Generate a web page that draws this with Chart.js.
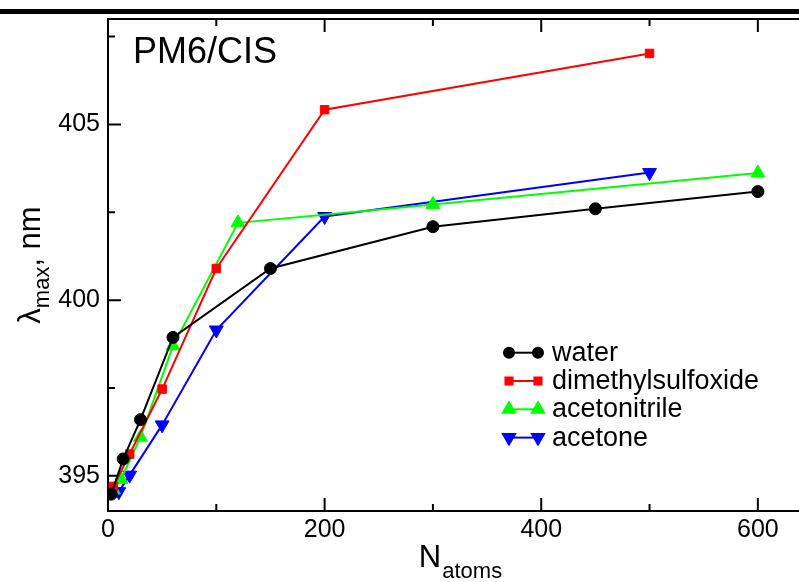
<!DOCTYPE html>
<html>
<head>
<meta charset="utf-8">
<script src="https://cdn.jsdelivr.net/npm/chart.js@4.4.1/dist/chart.umd.min.js"></script>
<style>
  html, body { margin: 0; padding: 0; background: #fff; overflow: hidden; }
  #wrap { position: relative; width: 799px; height: 582px; overflow: hidden; }
  #chart { position: absolute; left: 0; top: 0; }
  #topRule { position: absolute; left: 0; top: 9px; width: 799px; height: 5px; background: #000; }
</style>
</head>
<body>
<div id="wrap">
  <canvas id="chart" width="830" height="582"></canvas>
  <div id="topRule"></div>
</div>
<script>
// ---------- Data ----------
const waterN = [3, 14, 30, 60, 150, 300, 450, 600];
const waterL = [394.48, 395.48, 396.6, 398.94, 400.9, 402.09, 402.6, 403.09];

const dmsoN = [5, 20, 50, 100, 200, 500];
const dmsoL = [394.7, 395.62, 397.47, 400.9, 405.42, 407.02];

const acnN = [5, 12, 30, 60, 120, 300, 600];
const acnL = [394.6, 394.9, 396.1, 398.7, 402.2, 402.72, 403.62];

const acetoneN = [10, 20, 50, 100, 200, 500];
const acetoneL = [394.55, 395.02, 396.45, 399.15, 402.38, 403.63];

const seriesNames = ['water', 'dimethylsulfoxide', 'acetonitrile', 'acetone'];

// axis ticks
const xMajor = [0, 200, 400, 600];
const xMinor = [100, 300, 500];
const yMajor = [395, 400, 405];
const yMinor = [397.5, 402.5, 407.5];

const FONT = '"Liberation Sans", Arial, Helvetica, sans-serif';

function pts(xs, ys) {
  return xs.map((x, i) => ({ x, y: ys[i] }));
}

function series(label, xs, ys, color, style, radius, rotation) {
  return {
    label,
    data: pts(xs, ys),
    showLine: true,
    borderColor: color,
    backgroundColor: color,
    borderWidth: 2,
    tension: 0,
    pointStyle: style,
    pointRadius: radius,
    pointRotation: rotation || 0,
    pointBorderWidth: 1,
    pointBorderColor: color,
    pointBackgroundColor: color
  };
}

// ---------- Plugins ----------
// axis lines with inward ticks on all four sides
const framePlugin = {
  id: 'frame',
  beforeDatasetsDraw(chart) {
    const { ctx, chartArea: a, scales: { x, y } } = chart;
    ctx.save();
    ctx.strokeStyle = '#000';
    ctx.lineWidth = 2;
    ctx.beginPath();
    ctx.moveTo(a.left, a.top - 1); ctx.lineTo(a.left, a.bottom);
    ctx.lineTo(a.right, a.bottom);
    ctx.moveTo(a.left, a.top); ctx.lineTo(a.right, a.top);
    ctx.stroke();
    const tick = (vals, len) => {
      vals.forEach(v => {
        const px = x.getPixelForValue(v);
        ctx.beginPath();
        ctx.moveTo(px, a.bottom); ctx.lineTo(px, a.bottom - len);
        ctx.moveTo(px, a.top); ctx.lineTo(px, a.top + len);
        ctx.stroke();
      });
    };
    const ytick = (vals, len) => {
      vals.forEach(v => {
        const py = y.getPixelForValue(v);
        ctx.beginPath();
        ctx.moveTo(a.left, py); ctx.lineTo(a.left + len, py);
        ctx.moveTo(a.right, py); ctx.lineTo(a.right - len, py);
        ctx.stroke();
      });
    };
    tick(xMajor, 13); tick(xMinor, 7);
    ytick(yMajor, 13); ytick(yMinor, 7);
    ctx.restore();
  }
};

// legend inside the plot: short line with a marker at each end
const legendPlugin = {
  id: 'inlineLegend',
  afterDatasetsDraw(chart) {
    const ctx = chart.ctx;
    const x0 = 509, x1 = 538, textX = 552;
    ctx.save();
    chart.data.datasets.forEach((ds, i) => {
      const yy = 352.7 + i * 28.3;
      ctx.strokeStyle = ds.borderColor;
      ctx.fillStyle = ds.backgroundColor;
      ctx.lineWidth = 2;
      ctx.beginPath();
      ctx.moveTo(x0, yy); ctx.lineTo(x1, yy);
      ctx.stroke();
      const opts = { pointStyle: ds.pointStyle, radius: ds.pointRadius - 1, rotation: ds.pointRotation, borderWidth: 1 };
      Chart.helpers.drawPoint(ctx, opts, x0, yy);
      Chart.helpers.drawPoint(ctx, opts, x1, yy);
      ctx.fillStyle = '#000';
      ctx.font = '27px ' + FONT;
      ctx.textBaseline = 'alphabetic';
      ctx.textAlign = 'left';
      ctx.fillText(ds.label, textX, yy + 8);
    });
    ctx.restore();
  }
};

// panel label and axis titles with subscripts
const textPlugin = {
  id: 'titles',
  afterDraw(chart) {
    const { ctx, chartArea: a } = chart;
    ctx.save();
    ctx.fillStyle = '#000';
    ctx.textBaseline = 'alphabetic';
    ctx.textAlign = 'left';

    ctx.font = '36px ' + FONT;
    ctx.fillText('PM6/CIS', a.left + 25, a.top + 44);

    // x title: N_atoms
    const big = '31px ' + FONT, small = '22px ' + FONT;
    ctx.font = big;
    const wN = ctx.measureText('N').width;
    ctx.font = small;
    const wSub = ctx.measureText('atoms').width;
    const cx = (a.left + a.right) / 2;
    let sx = cx - (wN + wSub) / 2;
    ctx.font = big;
    ctx.fillText('N', sx, 567);
    ctx.font = small;
    ctx.fillText('atoms', sx + wN + 1, 578);

    // y title: λ_max, nm (rotated)
    ctx.translate(40, (a.top + a.bottom) / 2);
    ctx.rotate(-Math.PI / 2);
    ctx.font = big;
    const wL = ctx.measureText('λ').width;
    const wRest = ctx.measureText(', nm').width;
    ctx.font = small;
    const wMax = ctx.measureText('max').width;
    let ty = -(wL + wMax + wRest) / 2;
    ctx.font = big;
    ctx.fillText('λ', ty, 0);
    ctx.font = small;
    ctx.fillText('max', ty + wL, 9);
    ctx.font = big;
    ctx.fillText(', nm', ty + wL + wMax, 0);
    ctx.restore();
  }
};

// ---------- Chart ----------
new Chart(document.getElementById('chart'), {
  type: 'scatter',
  data: {
    datasets: [
      series(seriesNames[0], waterN, waterL, '#000000', 'circle', 6),
      series(seriesNames[1], dmsoN, dmsoL, '#ff0000', 'rect', 6),
      series(seriesNames[2], acnN, acnL, '#00ff00', 'triangle', 8),
      series(seriesNames[3], acetoneN, acetoneL, '#0000ff', 'triangle', 8, 180)
    ]
  },
  options: {
    responsive: false,
    animation: false,
    layout: { padding: { top: 19, right: 18, left: 0, bottom: 0 } },
    plugins: { legend: { display: false }, tooltip: { enabled: false } },
    scales: {
      x: {
        type: 'linear',
        min: 0,
        max: 650,
        grid: { display: false, drawTicks: false },
        border: { display: false },
        afterBuildTicks(s) { s.ticks = xMajor.map(v => ({ value: v })); },
        afterFit(s) { s.height = 71; s.paddingLeft = 0; s.paddingRight = 0; },
        ticks: { color: '#000', padding: 4, font: { family: FONT, size: 25 } }
      },
      y: {
        type: 'linear',
        min: 394,
        max: 408,
        grid: { display: false, drawTicks: false },
        border: { display: false },
        afterBuildTicks(s) { s.ticks = yMajor.map(v => ({ value: v })); },
        afterFit(s) { s.width = 108; s.paddingTop = 0; s.paddingBottom = 0; },
        ticks: { color: '#000', padding: 8, font: { family: FONT, size: 25 } }
      }
    }
  },
  plugins: [framePlugin, legendPlugin, textPlugin]
});
</script>
</body>
</html>
